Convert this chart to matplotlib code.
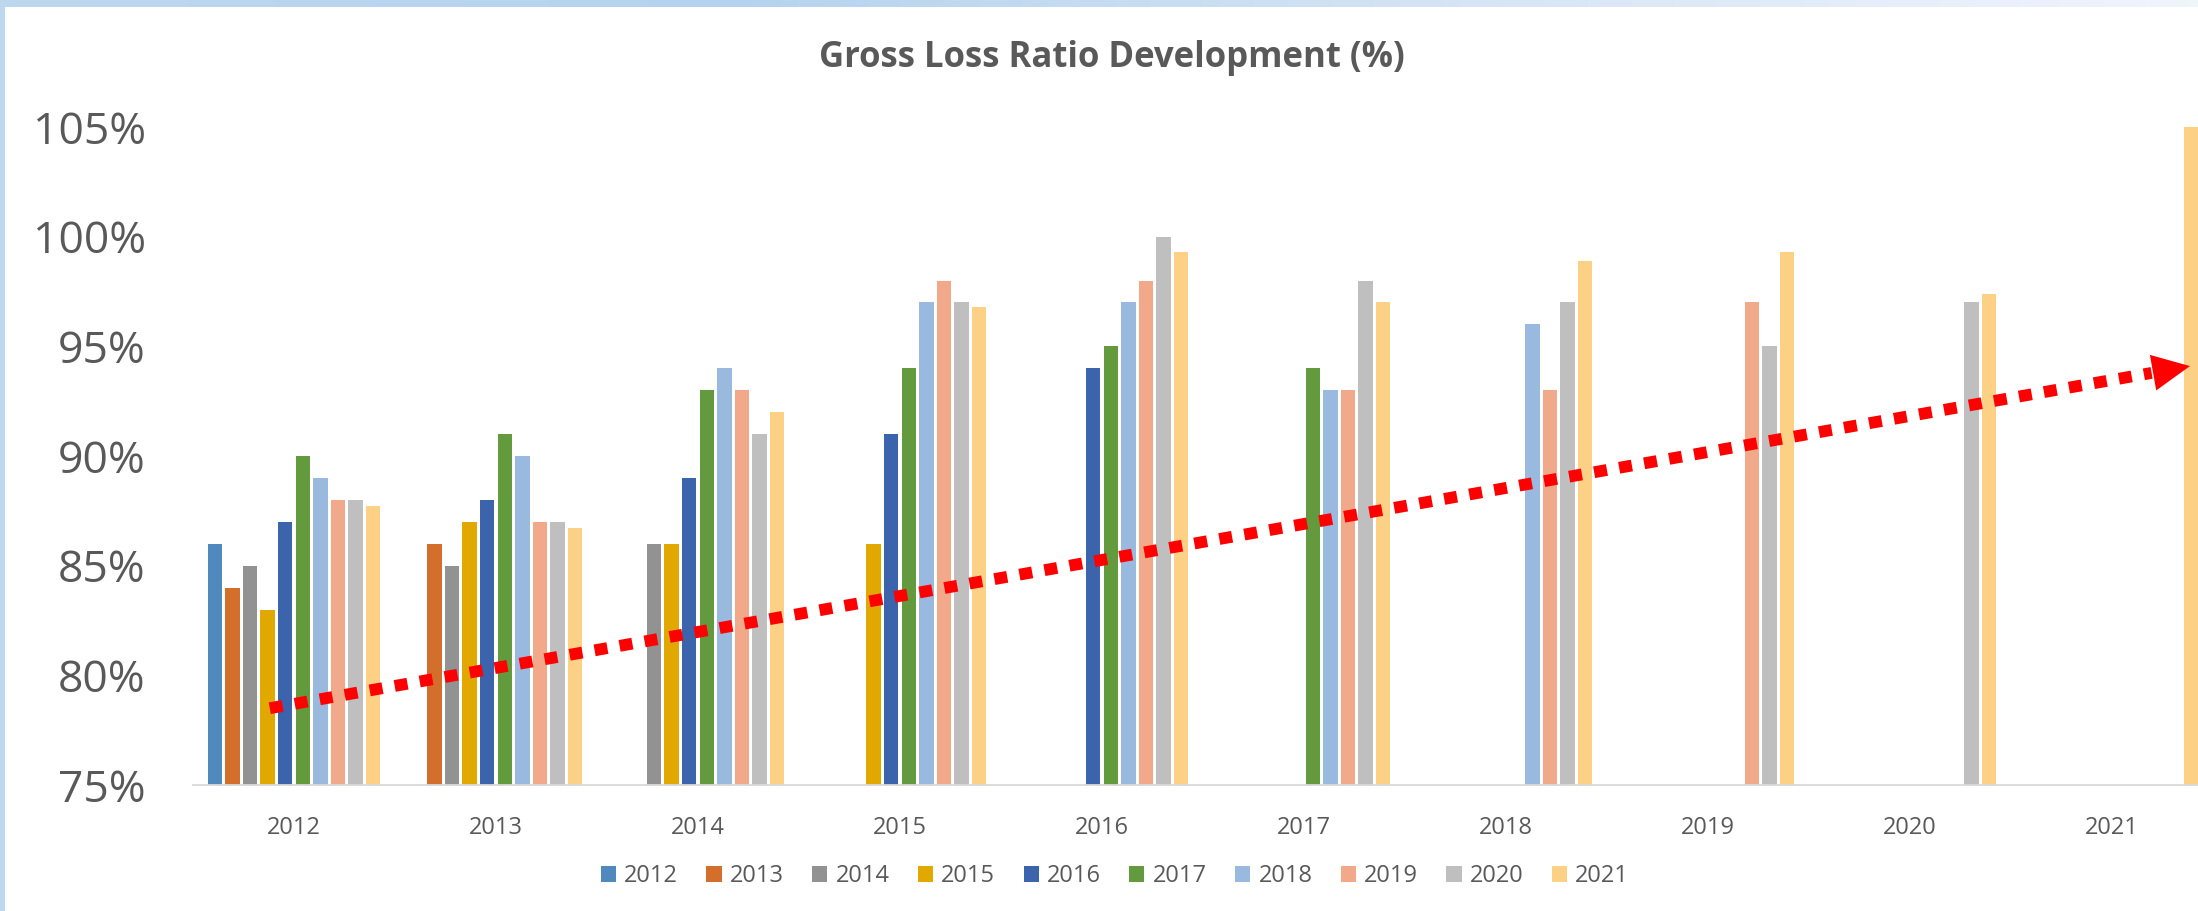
import matplotlib
matplotlib.use("Agg")
import matplotlib.pyplot as plt
import numpy as np
from matplotlib.patches import Rectangle

# groups on the x axis (underwriting years) and the series (development years)
groups = ['2012', '2013', '2014', '2015', '2016', '2017', '2018', '2019', '2020', '2021']
series_names = ['2012', '2013', '2014', '2015', '2016', '2017', '2018', '2019', '2020', '2021']

# loss ratio (%) of each series per group, nan where the series has no value yet
nan = np.nan
s2012 = [86, nan, nan, nan, nan, nan, nan, nan, nan, nan]
s2013 = [84, 86, nan, nan, nan, nan, nan, nan, nan, nan]
s2014 = [85, 85, 86, nan, nan, nan, nan, nan, nan, nan]
s2015 = [83, 87, 86, 86, nan, nan, nan, nan, nan, nan]
s2016 = [87, 88, 89, 91, 94, nan, nan, nan, nan, nan]
s2017 = [90, 91, 93, 94, 95, 94, nan, nan, nan, nan]
s2018 = [89, 90, 94, 97, 97, 93, 96, nan, nan, nan]
s2019 = [88, 87, 93, 98, 98, 93, 93, 97, nan, nan]
s2020 = [88, 87, 91, 97, 100, 98, 97, 95, 97, nan]
s2021 = [87.7, 86.7, 92, 96.8, 99.3, 97, 98.9, 99.3, 97.4, 105]
all_series = [s2012, s2013, s2014, s2015, s2016, s2017, s2018, s2019, s2020, s2021]

colors = ['#4f89bd', '#d36f2b', '#929292', '#e1a900', '#3c64ac',
          '#639a3e', '#9ab9df', '#f1a98a', '#bfbfbf', '#fdd185']

# trend arrow: start and end (group position, %)
trend_start = (-0.12, 78.5)
trend_end = (9.386, 94.1)

plt.rcParams['font.family'] = ['Open Sans', 'DejaVu Sans']
text_color = '#595959'

fig = plt.figure(figsize=(21.98, 9.11), dpi=100)

# light blue frame at the top and on the left
band = fig.add_axes([0, 1 - 7 / 911, 1, 7 / 911])
grad = np.linspace(0, 1, 256).reshape(1, -1)
band.imshow(grad, aspect='auto', cmap=matplotlib.colors.LinearSegmentedColormap.from_list(
    'band', ['#bdd7ee', '#b5d3ee', '#d6e4f5', '#f0f5fc']), extent=[0, 1, 0, 1])
band.axis('off')
fig.patches.append(Rectangle((0, 0), 5 / 2198, 1, transform=fig.transFigure,
                             facecolor='#bdd7ee', edgecolor='none'))

ax = fig.add_axes([193 / 2198, 126 / 911, (2198 - 193) / 2198, (785 - 127) / 911])

slot = 0.0871
x = np.arange(len(groups))
for i, (vals, c, name) in enumerate(zip(all_series, colors, series_names)):
    ax.bar(x + (i - 4.5) * slot, vals, width=0.072, color=c, label=name, zorder=2)

# dotted trend line with a filled head
slope = (trend_end[1] - trend_start[1]) / (trend_end[0] - trend_start[0])
head_start = trend_end[0] - 0.19
head_y = trend_start[1] + slope * (head_start - trend_start[0])
ax.plot([trend_start[0], head_start], [trend_start[1], head_y],
        color='red', lw=8.5, linestyle=(0, (1.1, 1.05)), dash_capstyle='butt', zorder=3)
ax.annotate('', xy=trend_end, xytext=(head_start, head_y),
            arrowprops=dict(arrowstyle='-|>,head_length=27,head_width=13', mutation_scale=1,
                            color='red', lw=0, shrinkA=0, shrinkB=0), zorder=4)

ax.set_ylim(75, 105)
ax.set_xlim(-0.5, (2198 - 294) / 202)
ax.set_yticks(range(75, 106, 5))
ax.set_yticklabels([f'{v}%' for v in range(75, 106, 5)], fontsize=32, color=text_color)
ax.set_xticks(x)
ax.set_xticklabels(groups, fontsize=17, color=text_color)
ax.tick_params(axis='y', length=0, pad=34)
ax.tick_params(axis='x', length=0, pad=22)
for side in ['top', 'right', 'left']:
    ax.spines[side].set_visible(False)
ax.spines['bottom'].set_color('#d9d9d9')
ax.spines['bottom'].set_linewidth(1.3)

fig.text(1112 / 2198, 1 - 58 / 911, 'Gross Loss Ratio Development (%)', ha='center', va='center',
         fontsize=25, fontweight='bold', color=text_color)

leg = fig.legend(loc='center', bbox_to_anchor=(1115 / 2198, 35 / 911), ncol=10, frameon=False,
                 fontsize=17, handlelength=0.64, handleheight=0.64, handletextpad=0.35,
                 columnspacing=1.2, labelcolor=text_color)

fig.savefig('out.png', dpi=100)
